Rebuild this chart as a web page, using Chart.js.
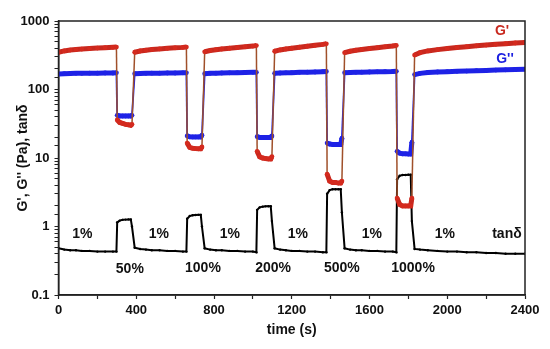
<!DOCTYPE html>
<html>
<head>
<meta charset="utf-8">
<script src="https://cdn.jsdelivr.net/npm/chart.js@4"></script>
<style>
  html, body { margin: 0; padding: 0; background: #fff; }
</style>
</head>
<body>
<canvas id="stepChart" width="550" height="349"></canvas>
<script>
// time (s), shared by all three series
const time = [
  0, 30, 60, 90, 120, 160, 200, 240, 280, 298,
  302, 315, 330, 345, 360, 372, 378,
  392, 420, 450, 480, 520, 560, 600, 640, 658,
  662, 675, 690, 705, 720, 732, 738,
  752, 780, 810, 840, 880, 920, 960, 1000, 1018,
  1022, 1035, 1050, 1065, 1080, 1092, 1098,
  1112, 1140, 1170, 1200, 1240, 1280, 1320, 1360, 1378,
  1382, 1395, 1410, 1425, 1440, 1452, 1458,
  1472, 1500, 1530, 1560, 1600, 1640, 1680, 1720, 1738,
  1742, 1755, 1770, 1785, 1800, 1812, 1818,
  1832, 1860, 1900, 1950, 2000, 2050, 2100, 2150, 2200, 2250, 2300, 2350, 2400
];

const gPrime = [
  350, 366, 376, 383, 389, 396, 402, 408, 413, 416,
  36, 33, 32, 31, 30.5, 30, 31,
  350, 365, 375, 383, 391, 399, 406, 412, 416,
  16.5, 14.3, 13.9, 13.7, 13.6, 13.6, 14.5,
  355, 370, 381, 390, 400, 410, 420, 430, 438,
  12.5, 10.4, 10, 9.8, 9.7, 9.7, 10.5,
  362, 378, 390, 400, 414, 428, 442, 456, 465,
  5.8, 4.6, 4.4, 4.4, 4.3, 4.3, 4.6,
  345, 362, 374, 384, 396, 408, 420, 432, 440,
  2.6, 2.1, 2.0, 2.0, 2.0, 2.0, 2.6,
  318, 345, 366, 382, 396, 410, 422, 434, 445, 456, 466, 477, 487
];

const gDouble = [
  168, 170, 171, 172, 172, 173, 173, 174, 174, 175,
  42, 41, 41, 41, 41, 41, 42,
  170, 171, 172, 173, 173, 174, 174, 175, 175,
  21, 20.4, 20.3, 20.3, 20.3, 20.3, 21.5,
  170, 172, 173, 174, 175, 176, 177, 178, 178,
  20.5, 20, 20, 20, 20, 20, 21,
  172, 174, 175, 176, 178, 179, 180, 182, 183,
  16.5, 16, 15.8, 15.8, 15.8, 15.8, 19.5,
  176, 177, 178, 179, 180, 181, 182, 183, 184,
  12.5, 11.8, 11.5, 11.5, 11.4, 11.4, 17,
  165, 172, 177, 180, 182, 184, 186, 188, 190, 192, 194, 196, 198
];

const tanDelta = [
  0.48, 0.46, 0.45, 0.45, 0.44, 0.44, 0.43, 0.43, 0.43, 0.43,
  1.15, 1.22, 1.25, 1.26, 1.27, 1.27, 1.0,
  0.49, 0.47, 0.46, 0.45, 0.45, 0.44, 0.44, 0.43, 0.43,
  1.3, 1.42, 1.46, 1.47, 1.48, 1.48, 1.0,
  0.48, 0.46, 0.45, 0.45, 0.44, 0.44, 0.43, 0.43, 0.42,
  1.75, 1.9, 1.95, 1.97, 1.98, 1.98, 1.2,
  0.48, 0.46, 0.45, 0.44, 0.44, 0.43, 0.43, 0.42, 0.42,
  3.0, 3.4, 3.5, 3.5, 3.5, 3.5, 1.6,
  0.48, 0.46, 0.45, 0.45, 0.44, 0.44, 0.43, 0.43, 0.42,
  4.9, 5.5, 5.65, 5.65, 5.7, 5.7, 1.2,
  0.47, 0.46, 0.45, 0.44, 0.43, 0.43, 0.42, 0.42, 0.41, 0.41, 0.40, 0.40, 0.40
];

const xTicks = [0, 400, 800, 1200, 1600, 2000, 2400];
const yTicks = [0.1, 1, 10, 100, 1000];

// text labels in the plot: [text, time, value, colour]
const notes = [
  ["1%", 123, 0.78, "#111"], ["1%", 516, 0.78, "#111"], ["1%", 881, 0.78, "#111"],
  ["1%", 1231, 0.78, "#111"], ["1%", 1612, 0.78, "#111"], ["1%", 1988, 0.78, "#111"],
  ["50%", 367, 0.24, "#111"], ["100%", 743, 0.25, "#111"], ["200%", 1104, 0.245, "#111"],
  ["500%", 1458, 0.245, "#111"], ["1000%", 1824, 0.25, "#111"],
  ["tan\u03b4", 2307, 0.78, "#111"],
  ["G'", 2282, 714, "#c8281e"], ["G''", 2297, 279, "#1a1ee0"]
];

const pts = (vals) => time.map((t, i) => ({ x: t, y: vals[i] }));

// thin connector where the value jumps (strain step), thick band elsewhere
const jump = (ctx) => {
  const a = ctx.p0.parsed.y, b = ctx.p1.parsed.y;
  return Math.max(a, b) / Math.min(a, b) > 3;
};

const frameAndNotes = {
  id: "frameAndNotes",
  afterDraw(chart) {
    const { ctx, chartArea: a, scales } = chart;
    ctx.save();
    ctx.strokeStyle = "#222";
    ctx.lineWidth = 1.5;
    ctx.strokeRect(a.left, a.top, a.right - a.left, a.bottom - a.top);
    ctx.font = "bold 14px 'Liberation Sans', Arial, sans-serif";
    ctx.textAlign = "center";
    ctx.textBaseline = "middle";
    notes.forEach(([txt, t, v, col]) => {
      ctx.fillStyle = col;
      ctx.fillText(txt, scales.x.getPixelForValue(t), scales.y.getPixelForValue(v));
    });
    ctx.restore();
  }
};

const tickFont = { family: "'Liberation Sans', Arial, sans-serif", size: 13, weight: "bold" };
const titleFont = { family: "'Liberation Sans', Arial, sans-serif", size: 14, weight: "bold" };

new Chart(document.getElementById("stepChart"), {
  type: "line",
  data: {
    datasets: [
      {
        label: "G'",
        data: pts(gPrime),
        borderColor: "#c8281e",
        pointBackgroundColor: "#d42a1e",
        pointBorderWidth: 0,
        pointRadius: 2.4,
        borderWidth: 5,
        segment: {
          borderWidth: (ctx) => (jump(ctx) ? 1.5 : 5),
          borderColor: (ctx) => (jump(ctx) ? "#a0502a" : "#c8281e")
        }
      },
      {
        label: "G''",
        data: pts(gDouble),
        borderColor: "#1e22e6",
        pointBackgroundColor: "#1e22e6",
        pointBorderWidth: 0,
        pointRadius: 2.4,
        borderWidth: 5,
        segment: {
          borderWidth: (ctx) => (jump(ctx) ? 1.8 : 5)
        }
      },
      {
        label: "tan\u03b4",
        data: pts(tanDelta),
        borderColor: "#000",
        pointBackgroundColor: "#000",
        pointBorderWidth: 0,
        pointRadius: 1.2,
        borderWidth: 2
      }
    ]
  },
  options: {
    responsive: false,
    animation: false,
    devicePixelRatio: 1,
    layout: { padding: { top: 21, right: 25, left: 0, bottom: 0 } },
    plugins: { legend: { display: false }, tooltip: { enabled: false } },
    scales: {
      x: {
        type: "linear",
        min: 0,
        max: 2400,
        afterBuildTicks: (s) => { s.ticks = [0, 200, 400, 600, 800, 1000, 1200, 1400, 1600, 1800, 2000, 2200, 2400].map((v) => ({ value: v })); },
        afterFit: (s) => { s.height = 54; },
        grid: { drawOnChartArea: false, tickLength: 4, color: "#222", tickWidth: 1.2 },
        border: { color: "#222", width: 1.5 },
        ticks: {
          font: tickFont,
          color: "#111",
          padding: 4,
          maxRotation: 0,
          autoSkip: false,
          callback: (v) => (xTicks.includes(v) ? String(v) : "")
        },
        title: { display: true, text: "time (s)", font: titleFont, color: "#111", padding: { top: 0, bottom: 10 } }
      },
      y: {
        type: "logarithmic",
        min: 0.1,
        max: 1000,
        afterFit: (s) => { s.width = 58.5; },
        grid: { drawOnChartArea: false, tickLength: 4, color: "#222", tickWidth: 1 },
        border: { color: "#222", width: 1.5 },
        ticks: {
          font: tickFont,
          color: "#111",
          padding: 5,
          autoSkip: false,
          callback: (v) => (yTicks.some((t) => Math.abs(t - v) < 1e-9) ? String(v) : "")
        },
        title: { display: true, text: "G', G'' (Pa), tan\u03b4", font: titleFont, color: "#111", padding: { top: 15, bottom: 0 } }
      }
    }
  },
  plugins: [frameAndNotes]
});
</script>
</body>
</html>
